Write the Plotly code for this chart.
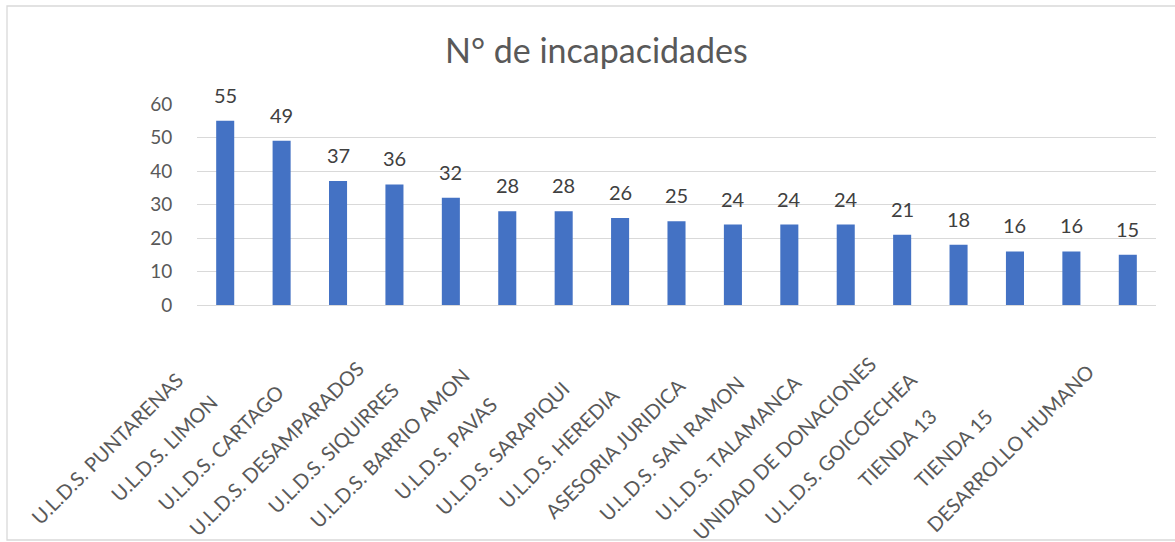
import plotly.graph_objects as go

categories = [
    "U.L.D.S. PUNTARENAS", "U.L.D.S. LIMON", "U.L.D.S. CARTAGO", "U.L.D.S. DESAMPARADOS",
    "U.L.D.S. SIQUIRRES", "U.L.D.S. BARRIO AMON", "U.L.D.S. PAVAS", "U.L.D.S. SARAPIQUI",
    "U.L.D.S. HEREDIA", "ASESORIA JURIDICA", "U.L.D.S. SAN RAMON", "U.L.D.S. TALAMANCA",
    "UNIDAD DE DONACIONES", "U.L.D.S. GOICOECHEA", "TIENDA 13", "TIENDA 15", "DESARROLLO HUMANO",
]
values = [55, 49, 37, 36, 32, 28, 28, 26, 25, 24, 24, 24, 21, 18, 16, 16, 15]
y_ticks = [0, 10, 20, 30, 40, 50, 60]
title_text = "N° de incapacidades"

W, H = 1175, 542
PL, PR, PT, PB = 197, 1156, 104, 305
FONT = "Lato"

def px_x(p):
    return (p - PL) / (PR - PL)

def px_y(p):
    return (PB - p) / (PB - PT)

fig = go.Figure()
fig.add_trace(go.Bar(
    x=categories, y=values,
    marker=dict(color="#4472C4", line=dict(width=0)),
    hoverinfo="x+y",
))

annotations = []
for c, v in zip(categories, values):
    annotations.append(dict(
        x=c, y=v, xref="x", yref="y", text=str(v), showarrow=False,
        xanchor="center", yanchor="bottom", yshift=12,
        font=dict(family=FONT, size=20, color="#404040"),
    ))
    annotations.append(dict(
        x=c, y=px_y(448), xref="x", yref="paper", text=c, showarrow=False,
        xanchor="center", yanchor="middle", xshift=-118, textangle=-45,
        font=dict(family=FONT, size=20, color="#595959"),
    ))
annotations.append(dict(
    x=px_x(596), y=px_y(50), xref="paper", yref="paper", text=title_text,
    showarrow=False, xanchor="center", yanchor="middle",
    font=dict(family=FONT, size=34, color="#595959"),
))

fig.update_layout(
    width=W, height=H,
    margin=dict(l=PL, r=W - PR, t=PT, b=H - PB, pad=0, autoexpand=False),
    paper_bgcolor="white", plot_bgcolor="white",
    showlegend=False,
    bargap=0.68,
    annotations=annotations,
    shapes=[dict(
        type="rect", xref="paper", yref="paper",
        x0=px_x(7), x1=px_x(1185), y0=px_y(540), y1=px_y(6),
        line=dict(color="#D9D9D9", width=1.3), fillcolor="rgba(0,0,0,0)", layer="below",
    )],
    xaxis=dict(showticklabels=False, showgrid=False, zeroline=False, showline=False,
               ticks="", range=[-0.5, len(categories) - 0.5], autorange=False),
    yaxis=dict(
        range=[0, 60], autorange=False, tickvals=y_ticks, ticktext=[str(t) for t in y_ticks],
        showgrid=True, gridcolor="#D9D9D9", gridwidth=1.3,
        zeroline=True, zerolinecolor="#D9D9D9", zerolinewidth=1.3,
        showline=False, ticks="outside", ticklen=20, tickcolor="rgba(0,0,0,0)",
        tickfont=dict(family=FONT, size=19, color="#595959"),
    ),
)

fig.write_html("out.html", config={"displayModeBar": False},
               post_script="document.body.style.margin='0';")
